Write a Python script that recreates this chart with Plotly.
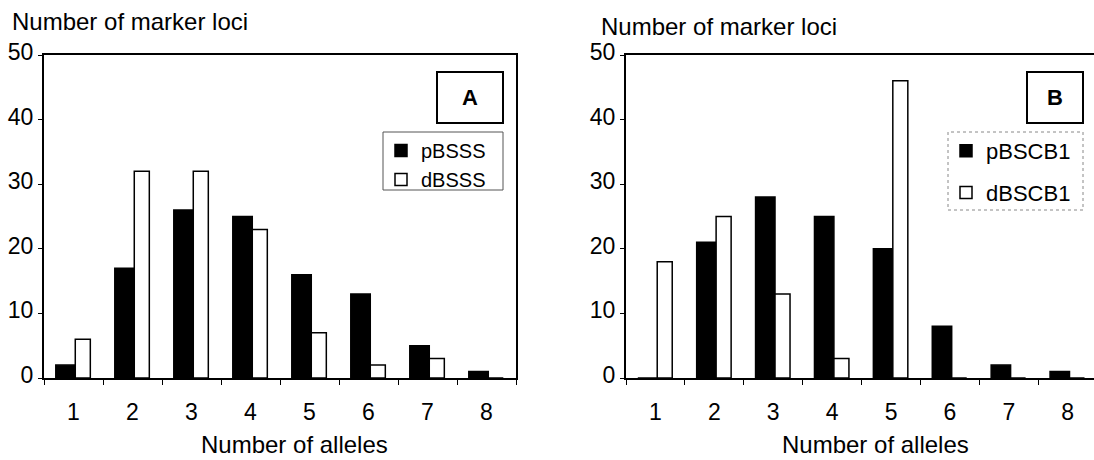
import plotly.graph_objects as go

# ---- data ----
categories = ["1", "2", "3", "4", "5", "6", "7", "8"]
pBSSS = [2, 17, 26, 25, 16, 13, 5, 1]
dBSSS = [6, 32, 32, 23, 7, 2, 3, 0]
pBSCB1 = [0, 21, 28, 25, 20, 8, 2, 1]
dBSCB1 = [18, 25, 13, 3, 46, 0, 0, 0]
y_ticks = [0, 10, 20, 30, 40, 50]

W, H = 1094, 460
FONT = "Arial, Liberation Sans, Helvetica, sans-serif"

def px(x):
    return x / W

def py(y):
    return 1 - y / H

fig = go.Figure()

def add_pair(p_name, p_vals, d_name, d_vals, xa, ya, leg):
    fig.add_trace(go.Bar(
        x=categories, y=p_vals, name=p_name, xaxis=xa, yaxis=ya,
        marker=dict(color="black", line=dict(color="black", width=1.5)),
        offset=-0.30, width=0.33, legend=leg, legendgroup=p_name,
    ))
    fig.add_trace(go.Bar(
        x=categories, y=d_vals, name=d_name, xaxis=xa, yaxis=ya,
        marker=dict(color="white", line=dict(color="black", width=1.5)),
        offset=0.03, width=0.255, legend=leg, legendgroup=d_name,
    ))

add_pair("pBSSS", pBSSS, "dBSSS", dBSSS, "x", "y", "legend")
add_pair("pBSCB1", pBSCB1, "dBSCB1", dBSCB1, "x2", "y2", "legend2")

ydom = [1 - 378 / H, 1 - 55 / H]
tickfont = dict(family=FONT, size=23, color="black")

xcommon = dict(
    type="category", showline=True, linecolor="black", linewidth=2,
    ticks="outside", ticklen=5, tickwidth=1, tickcolor="black",
    tickson="boundaries", tickfont=tickfont, showgrid=False,
    ticklabelstandoff=12, fixedrange=True, automargin=False,
)
ycommon = dict(
    range=[0, 50], tickvals=y_ticks, showline=True, linecolor="black",
    linewidth=2, ticks="outside", ticklen=4, tickwidth=1, tickcolor="black",
    tickfont=tickfont, showgrid=False, zeroline=False, ticklabelshift=-3,
    automargin=False,
)

fig.update_layout(
    width=W, height=H,
    margin=dict(l=0, r=0, t=0, b=0, autoexpand=False),
    paper_bgcolor="white", plot_bgcolor="white",
    font=dict(family=FONT, color="black"),
    barmode="overlay",
    xaxis=dict(domain=[px(44), px(516)], range=[-0.5, 7.5], anchor="y",
               mirror=True, **xcommon),
    yaxis=dict(domain=ydom, anchor="x", mirror=True, **ycommon),
    xaxis2=dict(domain=[px(626), 1.0], range=[-0.5, 7.446], anchor="y2",
                mirror=True, **xcommon),
    yaxis2=dict(domain=ydom, anchor="x2", mirror=False, **ycommon),
    legend=dict(
        x=px(381), xanchor="left", y=py(131), yanchor="top",
        borderwidth=0, bgcolor="rgba(0,0,0,0)",
        font=dict(family=FONT, size=20, color="black"),
        traceorder="grouped", tracegroupgap=0, itemwidth=30,
    ),
    legend2=dict(
        x=px(946), xanchor="left", y=py(130), yanchor="top",
        borderwidth=0, bgcolor="rgba(0,0,0,0)",
        font=dict(family=FONT, size=22, color="black"),
        traceorder="grouped", tracegroupgap=10, itemwidth=30,
    ),
    shapes=[
        dict(type="rect", xref="paper", yref="paper",
             x0=px(383), x1=px(503), y0=py(190), y1=py(132),
             line=dict(color="#555", width=1)),
        dict(type="rect", xref="paper", yref="paper",
             x0=px(948), x1=px(1083), y0=py(210), y1=py(132),
             line=dict(color="#888", width=1, dash="dot")),
    ],
    annotations=[
        dict(text="Number of marker loci", xref="paper", yref="paper",
             x=px(10), y=py(22), xanchor="left", yanchor="middle",
             showarrow=False, font=dict(family=FONT, size=24)),
        dict(text="Number of marker loci", xref="paper", yref="paper",
             x=px(599), y=py(27), xanchor="left", yanchor="middle",
             showarrow=False, font=dict(family=FONT, size=24)),
        dict(text="Number of alleles", xref="paper", yref="paper",
             x=px(294), y=0, xanchor="center", yanchor="bottom",
             showarrow=False, font=dict(family=FONT, size=24)),
        dict(text="Number of alleles", xref="paper", yref="paper",
             x=px(875), y=0, xanchor="center", yanchor="bottom",
             showarrow=False, font=dict(family=FONT, size=24)),
        dict(text="<b>A</b>", xref="paper", yref="paper",
             x=px(470), y=py(97), xanchor="center", yanchor="middle",
             showarrow=False, width=64, height=49, borderpad=0,
             bordercolor="black", borderwidth=2, bgcolor="white",
             font=dict(family=FONT, size=22)),
        dict(text="<b>B</b>", xref="paper", yref="paper",
             x=px(1054.5), y=py(97), xanchor="center", yanchor="middle",
             showarrow=False, width=54, height=49, borderpad=0,
             bordercolor="black", borderwidth=2, bgcolor="white",
             font=dict(family=FONT, size=22)),
    ],
)

fig.write_html("out.html")
